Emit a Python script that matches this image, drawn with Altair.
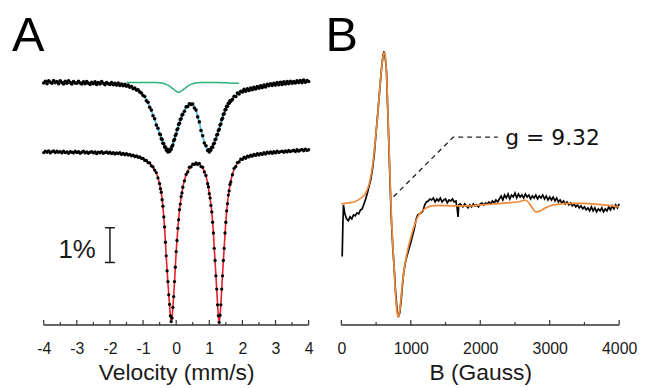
import altair as alt
import pandas as pd

# ---------------- Panel A : Moessbauer spectra ----------------
velocity = [
    -4.00, -3.95, -3.90, -3.85, -3.80, -3.75, -3.70, -3.65, -3.60, -3.55,
    -3.50, -3.45, -3.40, -3.35, -3.30, -3.25, -3.20, -3.15, -3.10, -3.05,
    -3.00, -2.95, -2.90, -2.85, -2.80, -2.75, -2.70, -2.65, -2.60, -2.55,
    -2.50, -2.45, -2.40, -2.35, -2.30, -2.25, -2.20, -2.15, -2.10, -2.05,
    -2.00, -1.95, -1.90, -1.85, -1.80, -1.75, -1.70, -1.65, -1.60, -1.55,
    -1.50, -1.45, -1.40, -1.35, -1.30, -1.25, -1.20, -1.15, -1.10, -1.05,
    -1.00, -0.95, -0.90, -0.85, -0.80, -0.75, -0.70, -0.65, -0.60, -0.55,
    -0.50,
    -0.475, -0.45, -0.425, -0.40, -0.375, -0.35, -0.325, -0.30, -0.275, -0.25,
    -0.225, -0.20, -0.175, -0.15, -0.125, -0.10, -0.075, -0.05, -0.025, 0.00,
    0.025, 0.05, 0.075, 0.10, 0.125, 0.15, 0.175, 0.20,
    0.25, 0.30, 0.35, 0.40, 0.45, 0.50, 0.55, 0.60, 0.65, 0.70, 0.75, 0.80, 0.85, 0.90, 0.95,
    0.975, 1.00, 1.025, 1.05, 1.075, 1.10, 1.125, 1.15, 1.175, 1.20,
    1.225, 1.25, 1.275, 1.30, 1.325, 1.35, 1.375, 1.40, 1.425, 1.45,
    1.475, 1.50, 1.525, 1.55, 1.575, 1.60, 1.625, 1.65,
    1.70, 1.75, 1.80, 1.85, 1.90, 1.95, 2.00, 2.05, 2.10, 2.15,
    2.20, 2.25, 2.30, 2.35, 2.40, 2.45, 2.50, 2.55, 2.60, 2.65,
    2.70, 2.75, 2.80, 2.85, 2.90, 2.95, 3.00, 3.05, 3.10, 3.15,
    3.20, 3.25, 3.30, 3.35, 3.40, 3.45, 3.50, 3.55, 3.60, 3.65,
    3.70, 3.75, 3.80, 3.85, 3.90, 3.95, 4.00,
]
# absorption (%) of the upper spectrum (measured points)
absorb_top = [
    0.03, -0.02, 0.05, -0.03, 0.01, 0.04, -0.04, 0.02, -0.01, 0.05,
    -0.03, 0.02, 0.06, -0.02, 0.04, -0.03, 0.02, 0.06, -0.01, 0.03,
    0.04, -0.02, 0.03, 0.06, 0.00, 0.05, -0.01, 0.04, 0.07, 0.01,
    0.05, 0.00, 0.07, 0.02, 0.06, -0.01, 0.04, 0.08, 0.02, 0.05,
    0.07, 0.02, 0.08, 0.04, 0.09, 0.03, 0.10, 0.06, 0.11, 0.07,
    0.12, 0.09, 0.15, 0.13, 0.19, 0.17, 0.23, 0.22, 0.28, 0.31,
    0.38, 0.41, 0.53, 0.57, 0.71, 0.79, 0.95, 1.03, 1.21, 1.30,
    1.46,
    1.48, 1.59, 1.61, 1.72, 1.73, 1.82, 1.83, 1.91, 1.89, 1.96,
    1.91, 1.95, 1.88, 1.89, 1.80, 1.77, 1.65, 1.61, 1.50, 1.46,
    1.34, 1.31, 1.19, 1.16, 1.05, 1.03, 0.93, 0.91,
    0.82, 0.70, 0.69, 0.61, 0.63, 0.62, 0.73, 0.79, 0.98, 1.12, 1.36, 1.51, 1.71, 1.79, 1.92,
    1.90, 1.96, 1.90, 1.91, 1.83, 1.83, 1.74, 1.72, 1.62, 1.60,
    1.49, 1.47, 1.36, 1.33, 1.21, 1.18, 1.06, 1.02, 0.91, 0.89,
    0.79, 0.77, 0.68, 0.68, 0.60, 0.60, 0.53, 0.54,
    0.49, 0.40, 0.41, 0.31, 0.34, 0.26, 0.28, 0.21, 0.26, 0.19,
    0.24, 0.17, 0.22, 0.15, 0.20, 0.13, 0.18, 0.11, 0.16, 0.09,
    0.14, 0.07, 0.11, 0.05, 0.10, 0.04, 0.09, 0.02, 0.08, 0.01,
    0.07, 0.00, 0.06, -0.01, 0.05, -0.02, 0.04, -0.01, 0.03, -0.03,
    0.02, -0.04, 0.02, -0.05, 0.01, -0.04, -0.01,
]
# absorption (%) of the lower spectrum (measured points)
absorb_bottom = [
    0.01, -0.03, 0.00, -0.04, 0.02, -0.02, -0.04, 0.01, -0.03, 0.00,
    -0.02, 0.02, -0.03, 0.01, -0.01, 0.03, -0.02, 0.00, 0.02, -0.03,
    0.01, -0.02, 0.03, 0.00, -0.03, 0.02, -0.01, 0.03, 0.00, -0.02,
    0.02, -0.01, 0.04, 0.00, 0.02, -0.02, 0.03, 0.01, -0.01, 0.03,
    0.00, 0.04, 0.01, 0.05, 0.02, 0.04, 0.01, 0.06, 0.03, 0.07,
    0.04, 0.08, 0.06, 0.10, 0.08, 0.12, 0.10, 0.14, 0.13, 0.17,
    0.17, 0.23, 0.23, 0.29, 0.30, 0.38, 0.41, 0.50, 0.57, 0.72,
    0.88,
    1.02, 1.12, 1.33, 1.51, 1.81, 2.09, 2.52, 2.90, 3.32, 3.62,
    3.99, 4.26, 4.58, 4.74, 4.64, 4.34, 4.04, 3.62, 3.22, 2.78,
    2.47, 2.13, 1.89, 1.61, 1.45, 1.24, 1.14, 0.98,
    0.80, 0.62, 0.55, 0.42, 0.41, 0.33, 0.34, 0.30, 0.34, 0.31, 0.40, 0.42, 0.55, 0.65, 0.88,
    0.97, 1.16, 1.28, 1.49, 1.67, 1.96, 2.26, 2.69, 3.03, 3.46,
    3.83, 4.27, 4.58, 4.76, 4.56, 4.27, 3.83, 3.46, 3.03, 2.69,
    2.26, 1.96, 1.64, 1.44, 1.20, 1.08, 0.90, 0.83,
    0.63, 0.45, 0.40, 0.29, 0.27, 0.19, 0.20, 0.14, 0.17, 0.11,
    0.13, 0.08, 0.11, 0.06, 0.09, 0.04, 0.08, 0.03, 0.06, 0.01,
    0.05, 0.00, 0.03, -0.01, 0.03, -0.02, 0.02, -0.03, 0.01, -0.02,
    -0.03, 0.00, -0.04, -0.01, -0.05, -0.02, -0.04, -0.06, -0.02, -0.07,
    -0.03, -0.06, -0.08, -0.04, -0.09, -0.05, -0.07,
]
# fitted curves
fit_velocity = [
    -4.0, -3.5, -3.0, -2.5, -2.0, -1.8, -1.6, -1.4, -1.2, -1.0,
    -0.9, -0.8, -0.7, -0.6, -0.55, -0.5, -0.45, -0.4, -0.35, -0.3,
    -0.25, -0.2, -0.175, -0.15, -0.125, -0.1, -0.05, 0.0, 0.05, 0.1,
    0.15, 0.2, 0.25, 0.3, 0.35, 0.4, 0.45, 0.5, 0.55, 0.6,
    0.65, 0.7, 0.75, 0.8, 0.85, 0.9, 0.95, 1.0, 1.05, 1.1,
    1.15, 1.2, 1.25, 1.275, 1.3, 1.325, 1.35, 1.4, 1.45, 1.5,
    1.55, 1.6, 1.65, 1.7, 1.8, 1.9, 2.0, 2.2, 2.4, 2.6,
    2.8, 3.0, 3.5, 4.0,
]
fit_top = [
    0.00, 0.00, 0.01, 0.03, 0.04, 0.06, 0.08, 0.13, 0.21, 0.36,
    0.50, 0.69, 0.92, 1.19, 1.31, 1.44, 1.56, 1.69, 1.79, 1.88,
    1.93, 1.92, 1.90, 1.87, 1.82, 1.75, 1.59, 1.44, 1.29, 1.14,
    1.01, 0.89, 0.80, 0.72, 0.67, 0.63, 0.61, 0.64, 0.71, 0.81,
    0.96, 1.14, 1.34, 1.53, 1.69, 1.81, 1.90, 1.93, 1.89, 1.81,
    1.70, 1.58, 1.45, 1.38, 1.31, 1.23, 1.16, 1.00, 0.87, 0.75,
    0.66, 0.58, 0.52, 0.47, 0.38, 0.31, 0.25, 0.21, 0.17, 0.13,
    0.08, 0.06, 0.01, -0.03,
]
fit_bottom = [
    -0.01, -0.01, 0.00, 0.00, 0.01, 0.03, 0.04, 0.07, 0.11, 0.18,
    0.24, 0.31, 0.42, 0.58, 0.71, 0.89, 1.14, 1.53, 2.11, 2.92,
    3.64, 4.28, 4.56, 4.75, 4.62, 4.36, 3.64, 2.80, 2.15, 1.63,
    1.26, 1.00, 0.78, 0.64, 0.53, 0.44, 0.39, 0.35, 0.32, 0.32,
    0.32, 0.33, 0.38, 0.44, 0.53, 0.67, 0.86, 1.14, 1.47, 1.94,
    2.67, 3.44, 4.25, 4.60, 4.75, 4.58, 4.25, 3.44, 2.67, 1.94,
    1.42, 1.06, 0.81, 0.61, 0.38, 0.25, 0.18, 0.11, 0.07, 0.04,
    0.01, 0.00, -0.03, -0.07,
]
# minor site component (green)
site_velocity = [-1.5, -1.0, -0.6, -0.4, -0.3, -0.2, -0.1, 0.0, 0.075, 0.15,
                 0.25, 0.35, 0.45, 0.55, 0.75, 1.2, 1.6, 1.9]
site_absorb = [0.02, 0.02, 0.02, 0.04, 0.07, 0.12, 0.19, 0.26, 0.30, 0.26,
               0.19, 0.12, 0.07, 0.04, 0.02, 0.02, 0.03, 0.04]
BOTTOM_SHIFT = 1.97          # vertical offset of the lower spectrum (%)
vel_major = [-4, -3, -2, -1, 0, 1, 2, 3, 4]
vel_minor = [-3.5, -2.5, -1.5, -0.5, 0.5, 1.5, 2.5, 3.5]

# ---------------- Panel B : EPR ----------------
field_B = [
    12, 20, 30, 50, 75, 100, 125, 150, 175, 200, 225, 250, 275, 300, 325, 350,
    375, 400, 425, 450, 475, 500, 525, 550, 575, 600, 615, 630, 650, 665, 680,
    700, 720, 740, 760, 780, 800, 820, 840, 860, 880, 900, 925, 950, 975, 1000,
    1025, 1050, 1075, 1100, 1125, 1150, 1175, 1200, 1225, 1250, 1275, 1300,
    1325, 1350, 1375, 1400, 1425, 1450, 1475, 1500, 1525, 1550, 1575, 1600,
    1625, 1650, 1670, 1680, 1690, 1710, 1725,
    1750, 1775, 1800, 1825, 1850, 1875, 1900, 1925, 1950, 1975,
    2000, 2025, 2050, 2075, 2100, 2125, 2150, 2175, 2200, 2225,
    2250, 2275, 2300, 2325, 2350, 2375, 2400, 2425, 2450, 2475,
    2500, 2525, 2550, 2575, 2600, 2625, 2650, 2675, 2700, 2725,
    2750, 2775, 2800, 2825, 2850, 2875, 2900, 2925, 2950, 2975,
    3000, 3025, 3050, 3075, 3100, 3125, 3150, 3175, 3200, 3225,
    3250, 3275, 3300, 3325, 3350, 3375, 3400, 3425, 3450, 3475,
    3500, 3525, 3550, 3575, 3600, 3625, 3650, 3675, 3700, 3725,
    3750, 3775, 3800, 3825, 3850, 3875, 3900, 3925, 3950, 3975,
    4000,
]
signal = [
    -0.52, -0.25, 0.00, -0.09, -0.14, -0.16, -0.12, -0.14, -0.10, -0.11, -0.08, -0.09, -0.05, -0.04, 0.01, 0.06,
    0.12, 0.19, 0.26, 0.37, 0.52, 0.73, 0.93, 1.14, 1.35, 1.51, 1.55, 1.50, 1.35, 1.02, 0.70,
    0.25, -0.15, -0.42, -0.63, -0.87, -1.04, -1.13, -1.09, -0.97, -0.80, -0.67, -0.57, -0.50, -0.44, -0.38,
    -0.31, -0.24, -0.15, -0.10, -0.09, -0.08, -0.06, 0.00, 0.03, 0.04, 0.06, 0.05,
    0.07, 0.03, 0.06, 0.04, 0.07, 0.03, 0.05, 0.06, 0.02, 0.05, 0.04, 0.06,
    0.03, 0.04, -0.05, -0.12, 0.00, 0.01, 0.00,
    -0.02, 0.01, -0.01, -0.03, 0.00, -0.02, 0.01, -0.01, 0.00, -0.02,
    0.01, 0.02, 0.00, 0.02, 0.01, 0.03, 0.01, 0.04, 0.02, 0.05,
    0.03, 0.06, 0.09, 0.05, 0.10, 0.07, 0.11, 0.06, 0.10, 0.08,
    0.12, 0.07, 0.11, 0.08, 0.10, 0.07, 0.11, 0.08, 0.10, 0.06,
    0.09, 0.07, 0.10, 0.06, 0.09, 0.07, 0.10, 0.06, 0.09, 0.05,
    0.08, 0.05, 0.08, 0.04, 0.07, 0.03, 0.05, 0.02, 0.04, 0.01,
    0.03, 0.00, 0.02, -0.01, 0.01, -0.02, 0.00, -0.03, -0.01, -0.04,
    -0.02, -0.05, -0.03, -0.06, -0.02, -0.06, -0.03, -0.07, -0.04, -0.06,
    -0.03, -0.07, -0.04, -0.06, -0.02, -0.05, -0.01, -0.04, 0.00, -0.03,
    0.01,
]
fit_B = [0, 100, 200, 300, 350, 400, 450, 500, 525, 550, 575, 600, 620, 640, 660,
         680, 700, 720, 740, 760, 780, 800, 820, 840, 860, 880, 900, 950, 1000,
         1050, 1100, 1150, 1200, 1300, 1400, 1600, 1800, 2000, 2200, 2400, 2600,
         2650, 2700, 2750, 2800, 2850, 2900, 3000, 3100, 3300, 3500, 3700, 3900, 4000]
fit_signal = [0.01, 0.02, 0.035, 0.08, 0.12, 0.21, 0.40, 0.73, 0.92, 1.14, 1.35, 1.50, 1.54, 1.45, 1.15,
              0.72, 0.30, -0.10, -0.40, -0.63, -0.90, -1.07, -1.13, -1.07, -0.93, -0.79, -0.67, -0.47, -0.33,
              -0.21, -0.12, -0.07, -0.04, -0.01, -0.005, -0.01, -0.01, 0.00, 0.01, 0.02, 0.04,
              0.05, 0.02, -0.03, -0.07, -0.065, -0.045, -0.01, 0.005, 0.015, 0.015, 0.005, -0.01, -0.02]
leader_B = [752, 1610, 2253]
leader_signal = [0.083, 0.683, 0.683]
gauss_major = [0, 1000, 2000, 3000, 4000]
gauss_minor = [500, 1500, 2500, 3500]


def frame(**cols):
    n = {len(v) for v in cols.values()}
    if len(n) != 1:
        raise ValueError({k: len(v) for k, v in cols.items()})
    return pd.DataFrame(cols)


FONT = "Liberation Sans"
INK = "#1a1a1a"
WA, WB, H = 306, 304, 316

# ---------- Panel A ----------
xsA = alt.Scale(domain=[-4.9588, 4.2097], nice=False, zero=False)
ysA = alt.Scale(domain=[93.194, 101.972], nice=False, zero=False)
axA = alt.Axis(values=vel_major, labelExpr="'' + datum.value", domain=False, ticks=False,
               tickSize=0, grid=False, labelPadding=16, titlePadding=5, labelFontSize=16,
               titleFontSize=23, labelFont=FONT, titleFont=FONT, titleFontWeight="normal",
               labelColor=INK, titleColor=INK, labelFlush=False, labelOverlap=False,
               titleX=165.5)


def XA(field):
    return alt.X(field, type="quantitative", scale=xsA, axis=axA, title="Velocity (mm/s)")


def YA(field):
    return alt.Y(field, type="quantitative", scale=ysA, axis=None)


obs = frame(v=velocity, top=absorb_top, bot=absorb_bottom)
obs["y_top"] = 100 - obs["top"]
obs["y_bot"] = 100 - BOTTOM_SHIFT - obs["bot"]
fits = frame(v=fit_velocity, top=fit_top, bot=fit_bottom)
fits["y_top"] = 100 - fits["top"]
fits["y_bot"] = 100 - BOTTOM_SHIFT - fits["bot"]
site = frame(v=site_velocity, a=site_absorb)
site["y"] = 100 - site["a"]

cyan = alt.Chart(fits).mark_line(color="#62c3e3", strokeWidth=2, interpolate="monotone").encode(
    x=XA("v"), y=YA("y_top"))
red = alt.Chart(fits).mark_line(color="#e3202b", strokeWidth=1.6, interpolate="monotone").encode(
    x=XA("v"), y=YA("y_bot"))
dots_top = alt.Chart(obs).mark_circle(color="black", size=13, opacity=1).encode(x=XA("v"), y=YA("y_top"))
dots_bot = alt.Chart(obs).mark_circle(color="black", size=11, opacity=1).encode(x=XA("v"), y=YA("y_bot"))
green = alt.Chart(site).mark_line(color="#2fb27a", strokeWidth=1.5, interpolate="monotone").encode(
    x=XA("v"), y=YA("y"))

axis_line_A = alt.Chart(frame(a=[vel_major[0]], b=[vel_major[-1]])).mark_rule(
    color="#333", strokeWidth=1.3).encode(x=XA("a"), x2="b", y=alt.value(H))
major_A = alt.Chart(frame(t=vel_major)).mark_rule(color="#333", strokeWidth=1.2).encode(
    x=XA("t"), y=alt.value(H), y2=alt.value(H - 5))
minor_A = alt.Chart(frame(t=vel_minor)).mark_rule(color="#333", strokeWidth=1.2).encode(
    x=XA("t"), y=alt.value(H), y2=alt.value(H - 3))

bar_df = frame(x=[-2.0], y=[95.917], y2=[94.944])
caps_df = frame(x=[-2.15, -2.15], x2=[-1.85, -1.85], y=[95.917, 94.944])
bar = alt.Chart(bar_df).mark_rule(color=INK, strokeWidth=1.5).encode(x=XA("x"), y=YA("y"), y2="y2")
caps = alt.Chart(caps_df).mark_rule(color=INK, strokeWidth=1.5).encode(x=XA("x"), x2="x2", y=YA("y"))
pct = alt.Chart(frame(x=[-2.43], y=[95.06], t=["1%"])).mark_text(
    align="right", baseline="alphabetic", font=FONT, fontSize=26, color=INK).encode(
    x=XA("x"), y=YA("y"), text="t:N")
letterA = alt.Chart(frame(t=["A"])).mark_text(
    align="left", baseline="alphabetic", font=FONT, fontSize=49, color="black").encode(
    x=alt.value(0), y=alt.value(40), text="t:N")

panelA = alt.layer(axis_line_A, major_A, minor_A, cyan, red, dots_top, dots_bot, green,
                   bar, caps, pct, letterA).properties(width=WA, height=H)

# ---------- Panel B ----------
xsB = alt.Scale(domain=[-228.57, 4114.29], nice=False, zero=False)
ysB = alt.Scale(domain=[-1.21, 1.95], nice=False, zero=False)
axB = alt.Axis(values=gauss_major, labelExpr="'' + datum.value", domain=False, ticks=False,
               tickSize=0, grid=False, labelPadding=16, titlePadding=5, labelFontSize=16,
               titleFontSize=23, labelFont=FONT, titleFont=FONT, titleFontWeight="normal",
               labelColor=INK, titleColor=INK, labelFlush=False, labelOverlap=False,
               titleX=156)


def XB(field):
    return alt.X(field, type="quantitative", scale=xsB, axis=axB, title="B (Gauss)")


def YB(field):
    return alt.Y(field, type="quantitative", scale=ysB, axis=None)


epr = frame(B=field_B, s=signal)
eprfit = frame(B=fit_B, s=fit_signal)
lead = frame(B=leader_B, s=leader_signal)

black = alt.Chart(epr).mark_line(color="black", strokeWidth=1.7).encode(x=XB("B"), y=YB("s"))
orange = alt.Chart(eprfit).mark_line(color="#ee8a3a", strokeWidth=1.7, interpolate="monotone").encode(
    x=XB("B"), y=YB("s"))
leader = alt.Chart(lead).mark_line(color="#222", strokeWidth=1.3, strokeDash=[5, 4]).encode(
    x=XB("B"), y=YB("s"))
gtext = alt.Chart(frame(B=[2360], s=[0.60], t=["g = 9.32"])).mark_text(
    align="left", baseline="alphabetic", font="DejaVu Sans", fontSize=22, color="#111").encode(
    x=XB("B"), y=YB("s"), text="t:N")
axis_line_B = alt.Chart(frame(a=[gauss_major[0]], b=[gauss_major[-1]])).mark_rule(
    color="#333", strokeWidth=1.3).encode(x=XB("a"), x2="b", y=alt.value(H))
major_B = alt.Chart(frame(t=gauss_major)).mark_rule(color="#333", strokeWidth=1.2).encode(
    x=XB("t"), y=alt.value(H), y2=alt.value(H - 5))
minor_B = alt.Chart(frame(t=gauss_minor)).mark_rule(color="#333", strokeWidth=1.2).encode(
    x=XB("t"), y=alt.value(H), y2=alt.value(H - 3))
letterB = alt.Chart(frame(t=["B"])).mark_text(
    align="left", baseline="alphabetic", font=FONT, fontSize=49, color="black").encode(
    x=alt.value(0), y=alt.value(40), text="t:N")

panelB = alt.layer(axis_line_B, major_B, minor_B, black, orange, leader, gtext,
                   letterB).properties(width=WB, height=H)

chart = alt.hconcat(panelA, panelB, spacing=10).configure_view(stroke=None).properties(
    padding={"left": 4, "top": 2, "right": 2, "bottom": 0}, background="white")

chart.save("out.html", embed_options={"renderer": "svg", "actions": False})
